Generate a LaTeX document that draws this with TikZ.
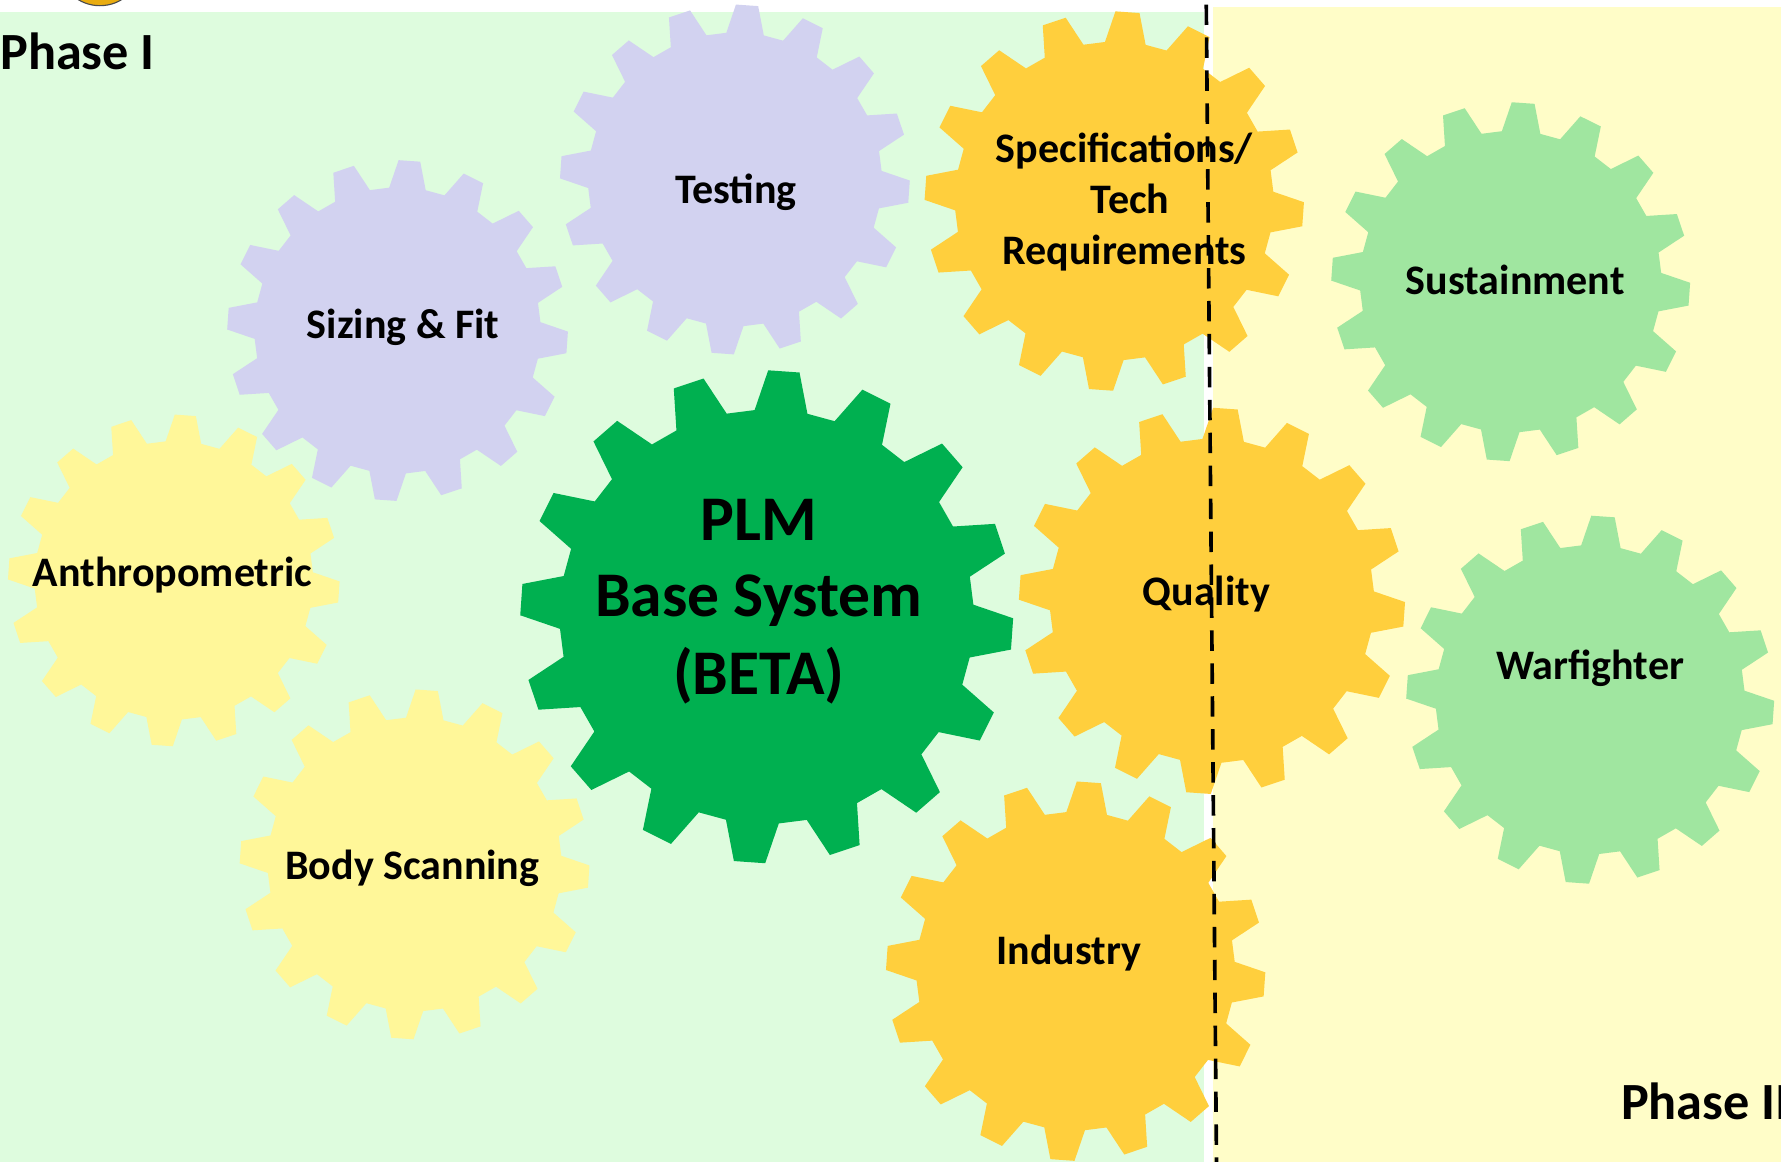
\documentclass[tikz,border=0pt]{standalone}
\usepackage{fontspec}
\setmainfont{Carlito}
\definecolor{bggreen}{HTML}{DEFCDE}
\definecolor{bgyellow}{HTML}{FFFDC8}
\definecolor{lav}{HTML}{D2D2F0}
\definecolor{paleyel}{HTML}{FFF799}
\definecolor{gorange}{HTML}{FFCF3D}
\definecolor{dkgreen}{HTML}{00B050}
\definecolor{ltgreen}{HTML}{A0E6A0}
\definecolor{coin}{HTML}{E9AC10}
\newcommand{\drawgear}[4]{%
  \begin{scope}[shift={(#1,#2)}]
    \fill[#4] ({-86-7.35}:{0.84*#3})
      \foreach \k in {0,...,15}{
        -- ({-86+22.5*\k-7.35}:{0.84*#3})
        -- ({-86+22.5*\k-3.65}:{#3})
        -- ({-86+22.5*\k+3.65}:{#3})
        -- ({-86+22.5*\k+7.35}:{0.84*#3})
      } -- cycle;
  \end{scope}}
\tikzset{
  lbl/.style={anchor=base, inner sep=0pt, font=\fontsize{37}{44}\selectfont\bfseries},
  biglbl/.style={anchor=base, inner sep=0pt, font=\fontsize{56}{66}\selectfont\bfseries},
  phaselbl/.style={anchor=base west, inner sep=0pt, font=\fontsize{46}{54}\selectfont\bfseries},
}
\begin{document}
\begin{tikzpicture}[x=1pt,y=-1pt]
\useasboundingbox (0,0) rectangle (1568,1023);
\clip (0,0) rectangle (1568,1023);
\fill[white] (0,0) rectangle (1568,1023);
\fill[bggreen] (0,11) rectangle (1060,1023);
\fill[bgyellow] (1068,6) rectangle (1568,1023);
\filldraw[fill=coin, draw=black!70, line width=1pt] (88,-26) ellipse [x radius=34, y radius=31];
% gears
\drawgear{647}{158}{154}{lav}
\drawgear{350}{291}{150}{lav}
\drawgear{153}{511}{146}{paleyel}
\drawgear{365}{761}{154}{paleyel}
\drawgear{981}{177}{167}{gorange}
\drawgear{1067}{529}{170}{gorange}
\drawgear{947}{855}{167}{gorange}
\drawgear{1330}{248}{158}{ltgreen}
\drawgear{1400}{616}{162}{ltgreen}
\drawgear{675}{543}{217}{dkgreen}
% labels
\node[phaselbl] (phase1) at (0,61) {Phase I};
\node[phaselbl] (phase2) at (1427,986) {Phase II};
\node[lbl] (testing) at (648,179) {Testing};
\node[lbl] (sizing) at (355,298) {Sizing \& Fit};
\node[lbl] (anthro) at (152,516) {Anthropometric};
\node[lbl] (body) at (363,774) {Body Scanning};
\node[lbl] (spec1) at (990,143) {Specifications/};
\node[lbl] (spec2) at (995,188) {Tech};
\node[lbl] (spec3) at (990,233) {Requirements};
\node[lbl] (quality) at (1062,533) {Quality};
\node[lbl] (industry) at (941,849) {Industry};
\node[lbl] (sustain) at (1334,259) {Sustainment};
\node[lbl] (warf) at (1400,598) {Warfighter};
\node[biglbl] (plm1) at (668,476) {PLM};
\node[biglbl] (plm2) at (668,543) {Base System};
\node[biglbl] (plm3) at (668,611) {(BETA)};
% phase divider
\coordinate (divtop) at (1062,4);
\coordinate (divbot) at (1071,1023);
\draw[black, line width=3.2pt, dash pattern=on 18pt off 11pt] (divtop) -- (divbot);
\end{tikzpicture}
\end{document}
